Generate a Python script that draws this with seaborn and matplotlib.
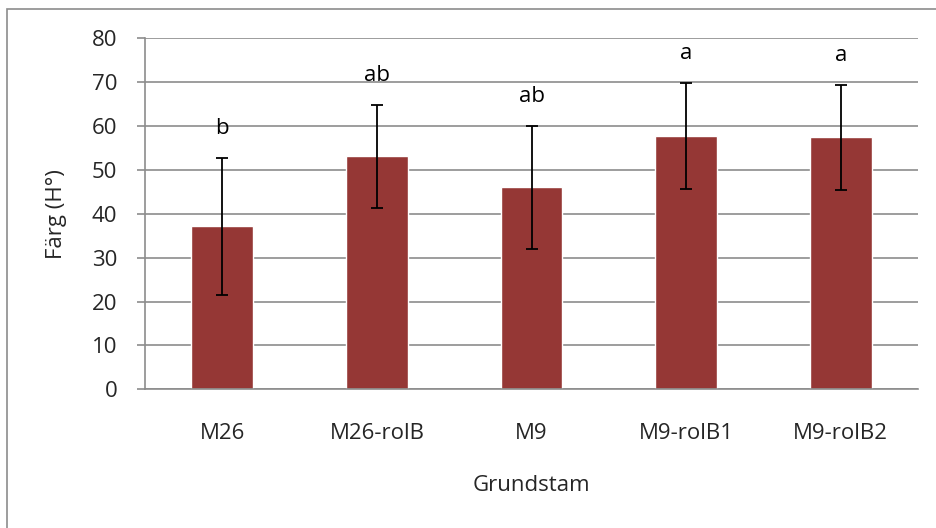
import pandas as pd
import seaborn as sns
import matplotlib.pyplot as plt
from matplotlib.patches import Rectangle

# Values
grundstam = ['M26', 'M26-rolB', 'M9', 'M9-rolB1', 'M9-rolB2']
farg = [37.2, 53.1, 46.0, 57.7, 57.4]
fel = [15.6, 11.7, 14.1, 12.1, 12.05]
bokstav = ['b', 'ab', 'ab', 'a', 'a']

df = pd.DataFrame({'Grundstam': grundstam, 'Farg': farg, 'Fel': fel, 'Bokstav': bokstav})

sns.set_style('white')
plt.rcParams['font.family'] = ['Open Sans', 'DejaVu Sans']

fs = 16

fig = plt.figure(figsize=(9.36, 5.28), dpi=100)
ax = fig.add_axes([0.1549, 0.2627, 0.8259, 0.6648])

sns.barplot(data=df, x='Grundstam', y='Farg', color='#953735', saturation=1,
            width=0.4, ax=ax, zorder=2)

ax.errorbar(range(len(df)), df['Farg'], yerr=df['Fel'], fmt='none',
            ecolor='black', elinewidth=1.3, capsize=4.5, capthick=1.3, zorder=3)

# significance letters above the error bars
for i, row in df.iterrows():
    ax.text(i, row['Farg'] + row['Fel'] + 6.7, row['Bokstav'], ha='center', va='center',
            fontsize=fs, color='black')

ax.set_xlim(-0.5, 4.5)
ax.set_ylim(0, 80)
ax.set_yticks(range(0, 81, 10))
ax.yaxis.grid(True, color='#8c8c8c', linewidth=1.2, zorder=0)
ax.set_axisbelow(True)

for side in ['top', 'right']:
    ax.spines[side].set_visible(False)
for side in ['left', 'bottom']:
    ax.spines[side].set_color('#8c8c8c')
    ax.spines[side].set_linewidth(1.2)

ax.tick_params(axis='y', which='major', left=True, length=6, width=1.2, color='#8c8c8c',
               labelsize=fs, pad=14)
ax.tick_params(axis='x', which='major', bottom=False, labelsize=fs, pad=21)

ax.set_xlabel('Grundstam', fontsize=fs, labelpad=22)
ax.set_ylabel('Färg (H°)', fontsize=fs, labelpad=18)

# outer chart frame
fig.patches.append(Rectangle((7.5 / 936, -0.05), 1.2, 1 - 8.5 / 528 + 0.05,
                             transform=fig.transFigure, fill=False,
                             edgecolor='#8c8c8c', linewidth=1.2))

fig.savefig('out.png', dpi=100)
